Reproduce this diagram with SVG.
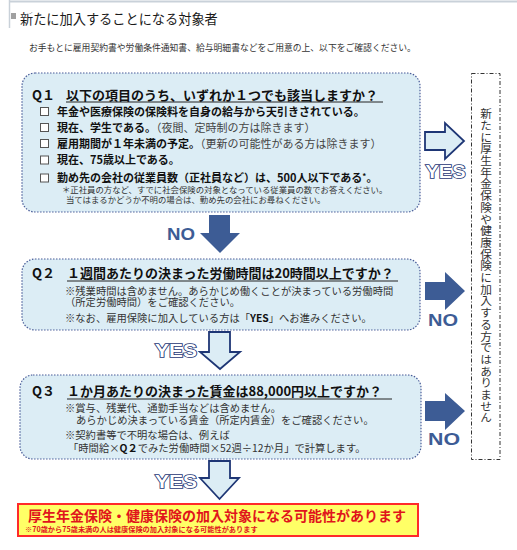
<svg xmlns="http://www.w3.org/2000/svg" width="517" height="550" viewBox="0 0 517 550">
<style>
.jp{font-family:"Noto Sans CJK JP","Noto Sans",sans-serif}
.box{fill:#dcedf5;stroke:#4a5d99;stroke-width:1.2;stroke-dasharray:1.5 1.5}
.q{font-size:13px;font-weight:bold;fill:#111}
.item{font-size:11px;font-weight:bold;fill:#111}
.paren{font-weight:normal;fill:#444}
.note{font-size:10.3px;fill:#333}
.small{font-size:8.4px;fill:#333}
.ul{stroke:#222;stroke-width:1}
.cb{fill:#fff;stroke:#555;stroke-width:1}
.solid{fill:#3d5c95}
.outline{fill:#dcedf5;stroke:#1e3675;stroke-width:1.8;stroke-linejoin:miter}
.yes{font-family:"Liberation Sans",Arial,sans-serif;font-weight:bold;font-size:18px;fill:#fff;stroke:#1e3675;stroke-width:1.6;paint-order:stroke}
.no{font-family:"Liberation Sans",Arial,sans-serif;font-weight:bold;font-size:17px;fill:#3d5c95}
</style>

<g id="header">
  <line x1="9.5" y1="0" x2="9.5" y2="28" stroke="#c9d1d9" stroke-width="1.5"/>
  <line x1="9" y1="1.5" x2="517" y2="1.5" stroke="#c9d1d9" stroke-width="2"/>
  <rect x="11" y="13" width="5" height="6" fill="#a0a0a0"/>
  <text class="jp" x="20" y="24" font-size="13.2" fill="#1a1a1a">新たに加入することになる対象者</text>
  <text class="jp" x="29" y="50.5" font-size="8.8" fill="#333">お手もとに雇用契約書や労働条件通知書、給与明細書などをご用意の上、以下をご確認ください。</text>
</g>

<g id="q1">
  <rect class="box" x="22" y="73" width="398" height="139" rx="13"/>
  <text class="jp q" x="32" y="100">Q１</text>
  <text class="jp q" x="66" y="100">以下の項目のうち、いずれか１つでも該当しますか？</text>
  <line class="ul" x1="66" y1="102" x2="383" y2="102"/>
  <rect class="cb" x="40.5" y="107.5" width="8" height="8"/>
  <text class="jp item" x="57" y="115.5">年金や医療保険の保険料を自身の給与から天引きされている。</text>
  <rect class="cb" x="40.5" y="123.5" width="8" height="8"/>
  <text class="jp item" x="57" y="131.5">現在、学生である。<tspan class="paren">（夜間、定時制の方は除きます）</tspan></text>
  <rect class="cb" x="40.5" y="139.5" width="8" height="8"/>
  <text class="jp item" x="57" y="147.5">雇用期間が１年未満の予定。<tspan class="paren">（更新の可能性がある方は除きます）</tspan></text>
  <rect class="cb" x="40.5" y="156" width="8" height="8"/>
  <text class="jp item" x="57" y="164">現在、75歳以上である。</text>
  <rect class="cb" x="40.5" y="174" width="8" height="8"/>
  <text class="jp item" x="57" y="182">勤め先の会社の従業員数（正社員など）は、500人以下である<tspan font-size="8" dy="-3">*</tspan><tspan dy="3">。</tspan></text>
  <text class="jp small" x="62" y="193">＊正社員の方など、すでに社会保険の対象となっている従業員の数でお答えください。</text>
  <text class="jp small" x="66" y="202.5">当てはまるかどうか不明の場合は、勤め先の会社にお尋ねください。</text>
</g>

<g id="q2">
  <rect class="box" x="22" y="259" width="398" height="71" rx="13"/>
  <text class="jp q" x="32" y="278">Q２</text>
  <text class="jp q" x="67" y="278">１週間あたりの決まった労働時間は20時間以上ですか？</text>
  <line class="ul" x1="67" y1="281" x2="398" y2="281"/>
  <text class="jp note" x="65" y="294.5">※残業時間は含めません。あらかじめ働くことが決まっている労働時間</text>
  <text class="jp note" x="65" y="306">（所定労働時間）をご確認ください。</text>
  <text class="jp note" x="65" y="322">※なお、雇用保険に加入している方は「<tspan font-weight="bold" fill="#111">YES</tspan>」へお進みください。</text>
</g>

<g id="q3">
  <rect class="box" x="20" y="375" width="401" height="84" rx="13"/>
  <text class="jp q" x="32" y="396">Q３</text>
  <text class="jp q" x="67" y="396">１か月あたりの決まった賃金は88,000円以上ですか？</text>
  <line class="ul" x1="67" y1="399" x2="392" y2="399"/>
  <text class="jp note" x="65" y="412">※賞与、残業代、通勤手当などは含めません。</text>
  <text class="jp note" x="76" y="424">あらかじめ決まっている賃金（所定内賃金）をご確認ください。</text>
  <text class="jp note" x="65" y="439">※契約書等で不明な場合は、例えば</text>
  <text class="jp note" x="68" y="452">「時間給×<tspan font-weight="bold" fill="#111">Q２</tspan>でみた労働時間×52週÷12か月」で計算します。</text>
</g>

<g id="not-covered">
  <rect x="471.5" y="73.5" width="28.5" height="386" fill="#fff" stroke="#333" stroke-width="1" stroke-dasharray="4 2 1 2"/>
  <text class="jp" x="486" y="108" font-size="11.7" fill="#333" writing-mode="vertical-rl">新たに厚生年金保険や健康保険に加入する方ではありません</text>
</g>

<g id="result">
  <rect x="18" y="504" width="400" height="32" fill="#ffff66" stroke="#ff2a2a" stroke-width="2"/>
  <text class="jp" x="217" y="521" font-size="14" font-weight="bold" fill="#e0141c" text-anchor="middle">厚生年金保険・健康保険の加入対象になる可能性があります</text>
  <text class="jp" x="25" y="532" font-size="7.2" font-weight="bold" fill="#e0141c">※70歳から75歳未満の人は健康保険の加入対象になる可能性があります</text>
</g>

<g id="connectors">
  <path class="outline" d="M425,132 H445 V123 L464,141 L445,159 V150 H425 Z"/>
  <text class="yes" x="445.5" y="178" text-anchor="middle" textLength="40" lengthAdjust="spacingAndGlyphs">YES</text>
  <path class="solid" d="M209,215 H230 V233 H240 L220,253 L200,233 H209 Z"/>
  <text class="no" x="181" y="240" text-anchor="middle" textLength="28" lengthAdjust="spacingAndGlyphs">NO</text>
  <path class="solid" d="M425,282 H445 V272 L465,291 L445,310 V300 H425 Z"/>
  <text class="no" x="443" y="326" text-anchor="middle" textLength="30" lengthAdjust="spacingAndGlyphs">NO</text>
  <path class="outline" d="M209,332 H230 V352 H240 L220,369 L200,352 H209 Z"/>
  <text class="yes" x="176" y="357" text-anchor="middle" textLength="42" lengthAdjust="spacingAndGlyphs">YES</text>
  <path class="solid" d="M425,401 H445 V393 L465,411 L445,430 V421 H425 Z"/>
  <text class="no" x="444" y="445" text-anchor="middle" textLength="32" lengthAdjust="spacingAndGlyphs">NO</text>
  <path class="outline" d="M209,461 H230 V478 H239 L219.5,499 L200,478 H209 Z"/>
  <text class="yes" x="176" y="488" text-anchor="middle" textLength="42" lengthAdjust="spacingAndGlyphs">YES</text>
</g>
</svg>
